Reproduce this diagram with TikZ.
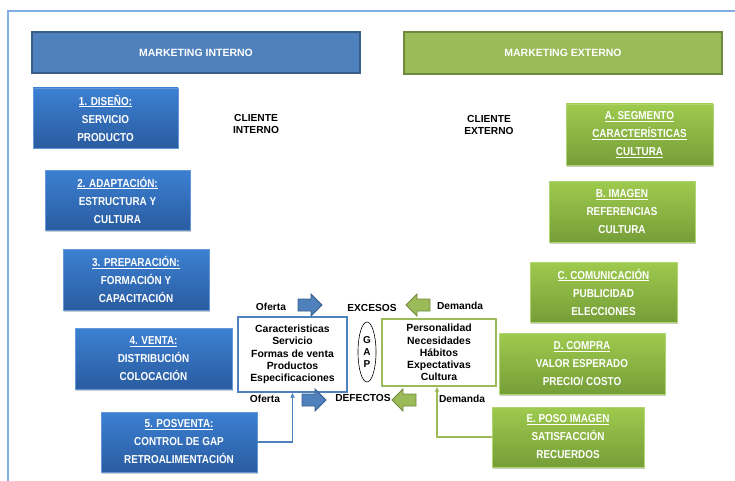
\documentclass[tikz,border=0pt]{standalone}
\usepackage{fontspec}
\setmainfont{Liberation Sans}
\newfontfamily\narrowfont[FakeStretch=0.86]{Liberation Sans}
\usetikzlibrary{shapes.geometric,shadows,arrows.meta}

\definecolor{frameblue}{RGB}{130,175,228}
\definecolor{hdrblue}{RGB}{79,129,189}
\definecolor{hdrblueedge}{RGB}{56,93,138}
\definecolor{hdrgreen}{RGB}{155,187,89}
\definecolor{hdrgreenedge}{RGB}{113,137,63}
\definecolor{bluetop}{RGB}{60,128,210}
\definecolor{bluebot}{RGB}{42,92,160}
\definecolor{greentop}{RGB}{158,202,78}
\definecolor{greenbot}{RGB}{118,158,56}
\definecolor{lineblue}{RGB}{79,129,189}
\definecolor{linegreen}{RGB}{155,187,89}

\tikzset{
  boxshadow/.style={drop shadow={shadow xshift=1pt, shadow yshift=-1.5pt, opacity=0.35, fill=black!60}},
  header/.style={rectangle, line width=1.2pt, text=white, inner sep=0pt,
    font=\bfseries\fontsize{10.5}{12}\selectfont},
  stepbox/.style={rectangle, inner sep=0pt, text=white, align=center,
    font=\narrowfont\bfseries\fontsize{11.5}{18}\selectfont, boxshadow},
  inbox/.style={stepbox, top color=bluetop, bottom color=bluebot, draw=bluetop!80!white, line width=0.3pt},
  exbox/.style={stepbox, top color=greentop, bottom color=greenbot, draw=greentop!80!white, line width=0.3pt},
  listbox/.style={rectangle, fill=white, line width=1.3pt, inner sep=0pt, align=center,
    font=\bfseries\fontsize{10.4}{12.2}\selectfont},
  lbl/.style={inner sep=0pt, font=\bfseries\fontsize{10.2}{12}\selectfont, align=center},
  % block arrow pointing right, centred on its position, 24 long and 22 high
  pics/flowarrow/.style={code={
    \path[pic actions] (-12,-6) -- (1,-6) -- (1,-11) -- (12,0) -- (1,11) -- (1,6) -- (-12,6) -- cycle;}},
  bluearrow/.style={fill=hdrblue, draw=hdrblueedge, line width=0.8pt},
  greenarrow/.style={fill=hdrgreen, draw=hdrgreenedge, line width=0.8pt, xscale=-1},
  bluelink/.style={draw=lineblue, line width=1.3pt, -{Latex[length=5pt,width=5pt]}},
  greenlink/.style={draw=linegreen, line width=1.3pt, -{Latex[length=5pt,width=5pt]}}
}

\begin{document}
\begin{tikzpicture}[x=1pt,y=-1pt]
\useasboundingbox (0,0) rectangle (735,481);

% page frame
\draw[frameblue, line width=1.6pt] (8,481) -- (8,11) -- (735,11);

% column headers
\node[header, fill=hdrblue, draw=hdrblueedge, minimum width=328pt, minimum height=41pt]
  (hin) at (196,52.5) {MARKETING INTERNO};
\node[header, fill=hdrgreen, draw=hdrgreenedge, minimum width=318pt, minimum height=42pt]
  (hex) at (563,53) {MARKETING EXTERNO};

% internal marketing steps
\node[inbox, minimum width=145pt, minimum height=60pt] (b1) at (105.5,118)
  {\underline{1. DISEÑO:}\\SERVICIO\\PRODUCTO};
\node[inbox, minimum width=145pt, minimum height=60pt] (b2) at (117.5,200)
  {\underline{2. ADAPTACIÓN:}\\ESTRUCTURA Y\\CULTURA};
\node[inbox, minimum width=146pt, minimum height=61pt] (b3) at (136,279.5)
  {\underline{3. PREPARACIÓN:}\\FORMACIÓN Y\\CAPACITACIÓN};
\node[inbox, minimum width=157pt, minimum height=61pt] (b4) at (153.5,358.5)
  {\underline{4. VENTA:}\\DISTRIBUCIÓN\\COLOCACIÓN};
\node[inbox, minimum width=156pt, minimum height=60pt] (b5) at (179,442)
  {\underline{5. POSVENTA:}\\CONTROL DE GAP\\RETROALIMENTACIÓN};

% external marketing steps
\node[exbox, minimum width=147pt, minimum height=61pt] (ea) at (639.5,134.5)
  {\underline{A. SEGMENTO}\\\underline{CARACTERÍSTICAS}\\\underline{CULTURA}};
\node[exbox, minimum width=146pt, minimum height=61pt] (eb) at (622,211.5)
  {\underline{B. IMAGEN}\\REFERENCIAS\\CULTURA};
\node[exbox, minimum width=147pt, minimum height=60pt] (ec) at (603.5,292)
  {\underline{C. COMUNICACIÓN}\\PUBLICIDAD\\ELECCIONES};
\node[exbox, minimum width=166pt, minimum height=61pt] (ed) at (582,363.5)
  {\underline{D. COMPRA}\\VALOR ESPERADO\\PRECIO/ COSTO};
\node[exbox, minimum width=152pt, minimum height=60pt] (ee) at (568,437)
  {\underline{E. POSO IMAGEN}\\SATISFACCIÓN\\RECUERDOS};

% client labels
\node[lbl] (cin) at (256,124) {CLIENTE\\INTERNO};
\node[lbl] (cex) at (489,125) {CLIENTE\\EXTERNO};

% offer and demand boxes with the gap between them
\node[listbox, draw=lineblue, minimum width=109pt, minimum height=75pt] (lc) at (292.5,354.5)
  {Caracteristicas\\Servicio\\Formas de venta\\Productos\\Especificaciones};
\node[listbox, draw=linegreen, minimum width=114pt, minimum height=67pt] (rc) at (439,352.5)
  {Personalidad\\Necesidades\\Hábitos\\Expectativas\\Cultura};
\node[ellipse, draw=black, line width=0.6pt, inner sep=0pt, minimum width=18pt, minimum height=60pt,
  align=center, font=\bfseries\fontsize{10}{12}\selectfont] (gap) at (367,352) {G\\A\\P};

% flows above and below
\node[lbl] (oft) at (271,307) {Oferta};
\pic[bluearrow] (aot) at (310,305) {flowarrow};
\node[lbl] (exc) at (372,308) {EXCESOS};
\pic[greenarrow] (adt) at (418,305) {flowarrow};
\node[lbl] (dmt) at (460,306) {Demanda};

\node[lbl] (ofb) at (265,399) {Oferta};
\pic[bluearrow] (aob) at (314,400) {flowarrow};
\node[lbl] (def) at (363,398) {DEFECTOS};
\pic[greenarrow] (adb) at (404,400) {flowarrow};
\node[lbl] (dmb) at (462,399) {Demanda};

% feedback links
\draw[bluelink] (b5.east) -| (lc.south);
\draw[greenlink] (ee.west) -| ([xshift=-2pt]rc.south);
\end{tikzpicture}
\end{document}
